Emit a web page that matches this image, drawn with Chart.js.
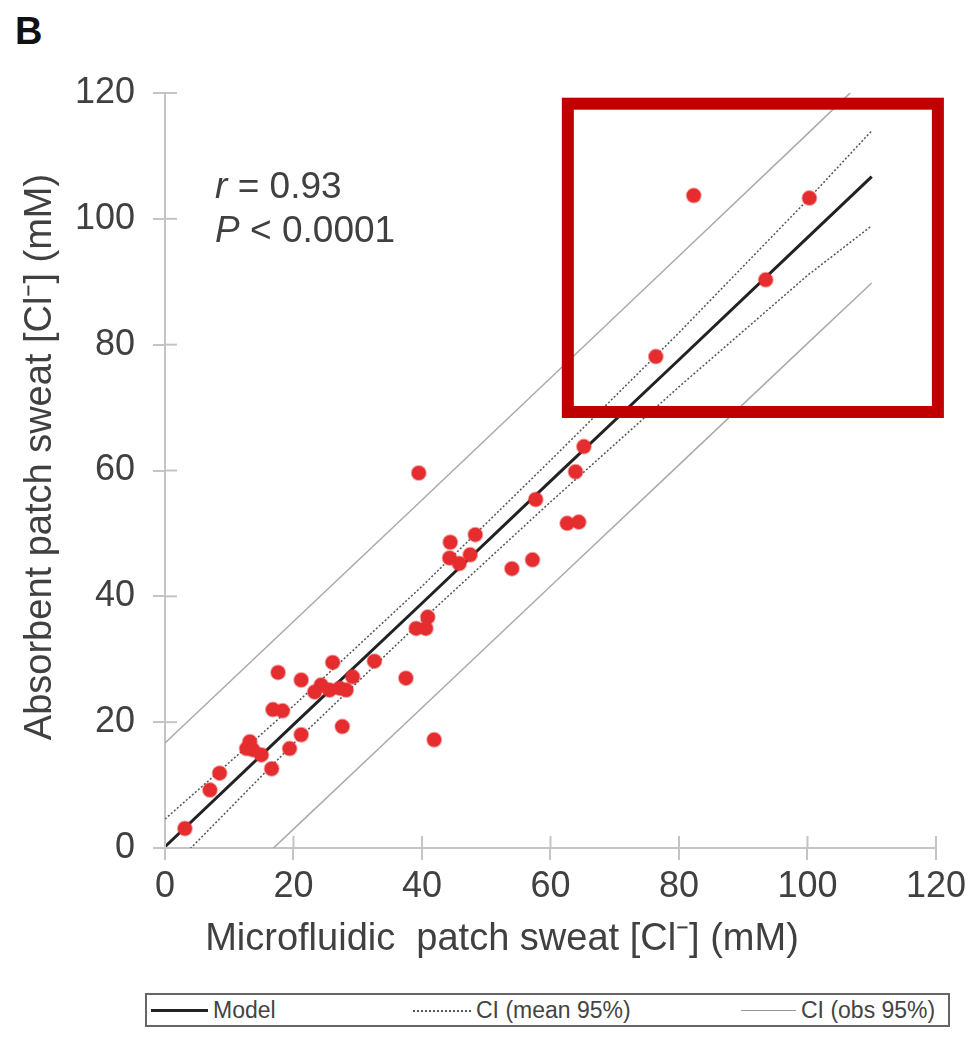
<!DOCTYPE html>
<html>
<head>
<meta charset="utf-8">
<script src="https://cdn.jsdelivr.net/npm/chart.js@4"></script>
<style>
  body { margin: 0; background: #fff; width: 971px; height: 1037px; position: relative; overflow: hidden; }
  #wrap { position: absolute; left: 0; top: 0; width: 971px; height: 970px; }
  #panel { position: absolute; left: 15px; top: 10px; font: bold 38px "Liberation Sans", Arial, sans-serif; color: #111; }
  #legend { position: absolute; left: 145px; top: 993px; width: 801px; height: 30px; border: 2px solid #666; font: 23px "Liberation Sans", sans-serif; color: #444; }
  .item { position: absolute; top: 0; height: 30px; line-height: 30px; }
  .sw { position: absolute; top: 15px; }
</style>
</head>
<body>
<div id="panel">B</div>
<div id="wrap"><canvas id="chart"></canvas></div>
<div id="legend">
  <span class="sw" style="left:4px;width:57px;border-top:3px solid #222;top:14px"></span>
  <span class="item" style="left:66px">Model</span>
  <span class="sw" style="left:266px;width:58px;border-top:2px dotted #555"></span>
  <span class="item" style="left:329px">CI (mean 95%)</span>
  <span class="sw" style="left:594px;width:55px;border-top:1px solid #999"></span>
  <span class="item" style="left:654px">CI (obs 95%)</span>
</div>
<script>
// scatter points: microfluidic (x) vs absorbent (y) sweat chloride, mM
var ptX = [3.1, 7.0, 8.5, 12.7, 13.2, 13.7, 15.0, 16.6, 16.8, 18.3, 17.6, 19.4, 21.2, 21.2, 23.3,
           24.3, 25.6, 27.2, 28.2, 26.1, 27.6, 29.2, 32.6, 37.5, 39.1, 40.6, 40.9, 39.5, 41.9, 44.4,
           44.3, 45.8, 47.5, 48.3, 54.0, 57.2, 57.7, 62.6, 64.4, 63.9, 65.2, 76.4, 82.3, 93.5, 100.3];
var ptY = [3.1, 9.2, 11.9, 15.8, 16.9, 15.6, 14.8, 12.6, 22.0, 21.8, 27.9, 15.8, 18.0, 26.7, 24.8,
           25.9, 25.1, 25.4, 25.1, 29.5, 19.3, 27.2, 29.7, 27.0, 34.9, 34.9, 36.7, 59.6, 17.2, 48.6,
           46.1, 45.2, 46.6, 49.8, 44.4, 45.8, 55.4, 51.6, 51.8, 59.8, 63.8, 78.1, 103.7, 90.3, 103.3];

// regression model and confidence bands, read at these x positions
var fitX   = [0, 20, 40, 60, 80, 100, 110];
var modelY = [0.2, 19.6, 38.9, 58.3, 77.6, 97.0, 106.7];
var meanHi = [4.6, 22.6, 41.6, 61.6, 81.9, 103.0, 114.0];
var meanLo = [-4.2, 16.6, 36.2, 55.0, 73.3, 91.0, 98.9];
var obsHi  = [16.7, 36.0, 55.3, 74.7, 94.1, 113.5, 123.3];
var obsLo  = [-16.3, 3.0, 22.3, 41.6, 60.9, 80.2, 89.8];

var tickVals = [0, 20, 40, 60, 80, 100, 120];

function pairs(xs, ys) {
  return xs.map(function(x, i) { return { x: x, y: ys[i] }; });
}

var FONT = '"Liberation Sans", Arial, sans-serif';
var AXIS_GRAY = '#c4c4c4';
var TEXT = '#404040';

function lineSet(ys, color, width, dash) {
  return {
    type: 'line', data: pairs(fitX, ys), showLine: true,
    borderColor: color, borderWidth: width, borderDash: dash || [],
    pointRadius: 0, fill: false, clip: 0
  };
}

var extras = {
  id: 'extras',
  afterDraw: function(chart) {
    var c = chart.ctx, xs = chart.scales.x, ys = chart.scales.y;
    var a = chart.chartArea;
    c.save();
    // inner halves of the crossing tick marks
    c.strokeStyle = AXIS_GRAY;
    c.lineWidth = 2;
    tickVals.forEach(function(v) {
      var px = xs.getPixelForValue(v), py = ys.getPixelForValue(v);
      c.beginPath(); c.moveTo(px, a.bottom); c.lineTo(px, a.bottom - 12); c.stroke();
      c.beginPath(); c.moveTo(a.left, py); c.lineTo(a.left + 12, py); c.stroke();
    });
    // axis titles
    c.fillStyle = TEXT;
    c.font = '38px ' + FONT;
    c.textAlign = 'center';
    c.textBaseline = 'middle';
    c.fillText('Microfluidic  patch sweat [Cl\u207B] (mM)', a.left + 337, 940);
    c.save();
    c.translate(41, a.top + 364);
    c.rotate(-Math.PI / 2);
    c.fillText('Absorbent patch sweat [Cl\u207B] (mM)', 0, 0);
    c.restore();
    // statistics
    c.textAlign = 'left';
    var tx = xs.getPixelForValue(7.8);
    var y1 = ys.getPixelForValue(104.9), y2 = ys.getPixelForValue(97.9);
    c.font = 'italic 37px ' + FONT;
    c.fillText('r', tx, y1);
    var w1 = c.measureText('r').width;
    c.fillText('P', tx, y2);
    var w2 = c.measureText('P').width;
    c.font = '37px ' + FONT;
    c.fillText(' = 0.93', tx + w1, y1);
    c.fillText(' < 0.0001', tx + w2, y2);
    // highlight box
    var bx1 = xs.getPixelForValue(62.7), bx2 = xs.getPixelForValue(120.3);
    var by1 = ys.getPixelForValue(118.3), by2 = ys.getPixelForValue(69.3);
    c.strokeStyle = '#c00000';
    c.lineWidth = 12;
    c.strokeRect(bx1, by1, bx2 - bx1, by2 - by1);
    c.restore();
  }
};

var ctx = document.getElementById('chart').getContext('2d');
var chart = new Chart(ctx, {
  type: 'scatter',
  data: {
    datasets: [
      {
        label: 'Data', data: pairs(ptX, ptY),
        backgroundColor: '#e52d2f', borderColor: 'rgba(229,45,47,0.45)', borderWidth: 2,
        pointRadius: 7, pointHoverRadius: 7, clip: false
      },
      lineSet(modelY, '#222', 3),
      lineSet(meanHi, '#555', 1.5, [2, 2]),
      lineSet(meanLo, '#555', 1.5, [2, 2]),
      lineSet(obsHi, '#aaa', 1.5),
      lineSet(obsLo, '#aaa', 1.5)
    ]
  },
  options: {
    responsive: true,
    maintainAspectRatio: false,
    animation: false,
    layout: { padding: { left: 0, top: 93, right: 33, bottom: 0 } },
    plugins: { legend: { display: false }, tooltip: { enabled: false } },
    scales: {
      x: {
        type: 'linear', min: 0, max: 120,
        afterFit: function(s) { s.height = 122; },
        afterBuildTicks: function(s) { s.ticks = tickVals.map(function(v) { return { value: v }; }); },
        ticks: { color: TEXT, font: { family: FONT, size: 36 }, padding: 5 },
        grid: { drawOnChartArea: false, drawTicks: true, tickLength: 12, color: AXIS_GRAY, lineWidth: 2 },
        border: { color: AXIS_GRAY, width: 2 }
      },
      y: {
        type: 'linear', min: 0, max: 120,
        afterFit: function(s) { s.width = 165; },
        afterBuildTicks: function(s) { s.ticks = tickVals.map(function(v) { return { value: v }; }); },
        ticks: { color: TEXT, font: { family: FONT, size: 36 }, padding: 18 },
        grid: { drawOnChartArea: false, drawTicks: true, tickLength: 12, color: AXIS_GRAY, lineWidth: 2 },
        border: { color: AXIS_GRAY, width: 2 }
      }
    }
  },
  plugins: [extras]
});
</script>
</body>
</html>
